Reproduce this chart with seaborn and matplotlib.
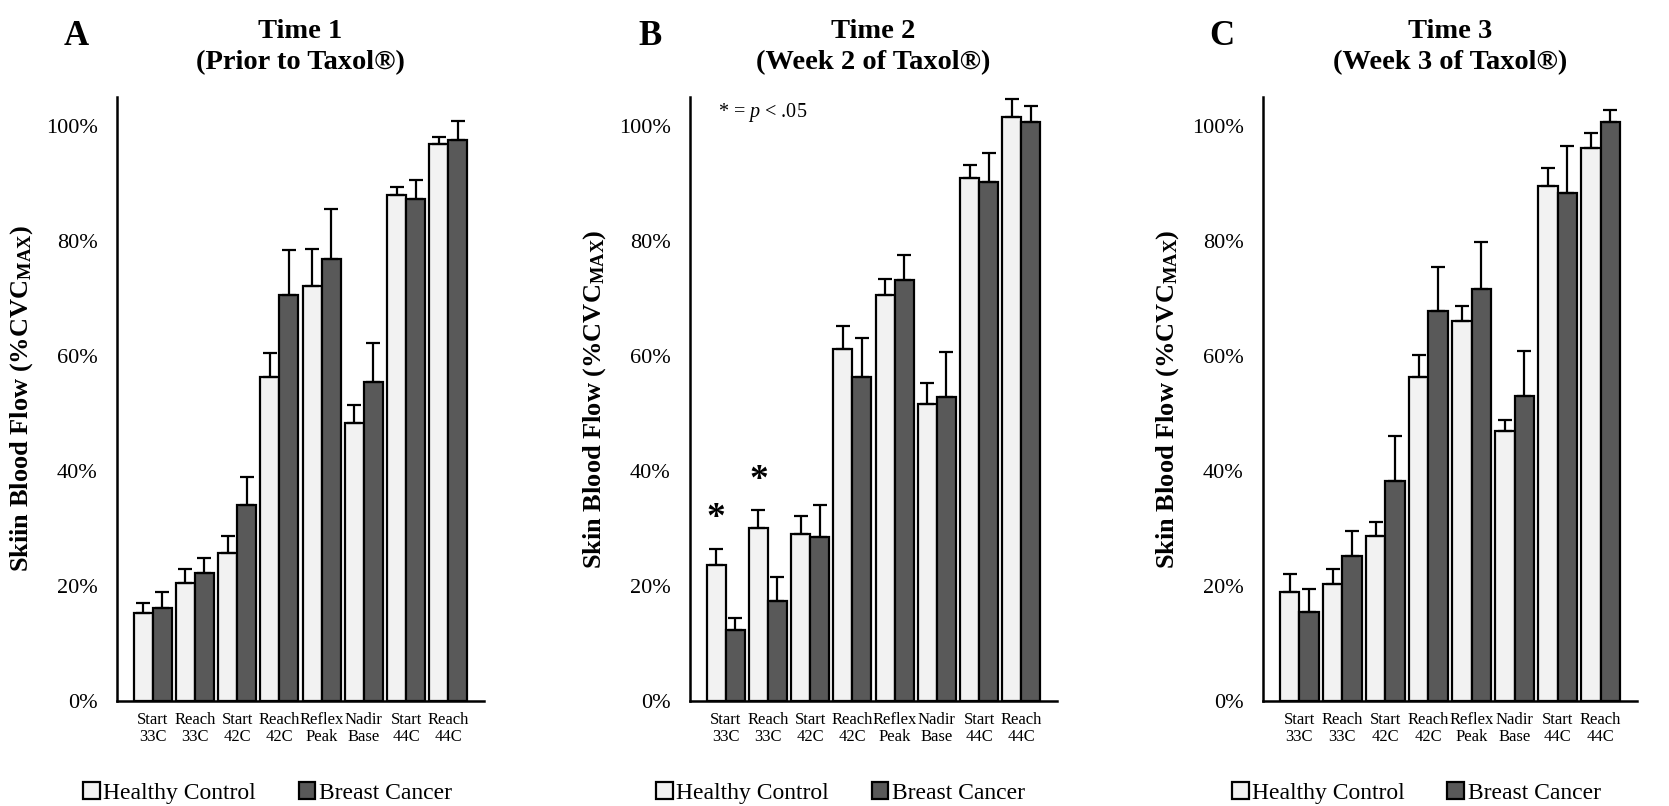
import matplotlib
matplotlib.use("Agg")
import numpy as np
import pandas as pd
import matplotlib.pyplot as plt
import seaborn as sns
from matplotlib.ticker import FuncFormatter

sns.set_theme(style="white")
plt.rcParams.update({
    "font.family": ["Liberation Serif", "DejaVu Serif"],
    "mathtext.fontset": "custom",
    "mathtext.rm": "Liberation Serif",
    "mathtext.it": "Liberation Serif:italic",
    "mathtext.bf": "Liberation Serif:bold",
    "text.color": "black",
    "axes.labelcolor": "black",
    "xtick.color": "black",
    "ytick.color": "black",
})

STAGES = ["Start\n33C", "Reach\n33C", "Start\n42C", "Reach\n42C",
          "Reflex\nPeak", "Nadir\nBase", "Start\n44C", "Reach\n44C"]
GROUPS = ["Healthy Control", "Breast Cancer"]
COLORS = ["#f2f2f2", "#595959"]

# skin blood flow, %CVCmax (mean and SE)
t1_hc = [15.3, 20.6, 25.8, 56.4, 72.2, 48.4, 88.0, 96.8]
t1_hc_se = [1.8, 2.4, 2.8, 4.1, 6.3, 3.1, 1.3, 1.2]
t1_bc = [16.2, 22.3, 34.0, 70.5, 76.9, 55.4, 87.2, 97.5]
t1_bc_se = [2.8, 2.6, 5.0, 7.9, 8.6, 6.8, 3.3, 3.4]

t2_hc = [23.6, 30.1, 29.1, 61.2, 70.5, 51.6, 90.9, 101.6]
t2_hc_se = [2.9, 3.1, 3.0, 4.0, 2.9, 3.7, 2.2, 3.0]
t2_bc = [12.3, 17.4, 28.5, 56.3, 73.2, 52.8, 90.2, 100.6]
t2_bc_se = [2.1, 4.1, 5.5, 6.8, 4.4, 7.8, 5.1, 2.8]

t3_hc = [19.0, 20.4, 28.7, 56.4, 66.1, 46.9, 89.6, 96.1]
t3_hc_se = [3.0, 2.6, 2.4, 3.7, 2.6, 2.0, 3.1, 2.6]
t3_bc = [15.5, 25.2, 38.2, 67.8, 71.6, 53.0, 88.3, 100.7]
t3_bc_se = [3.9, 4.3, 7.8, 7.6, 8.2, 7.8, 8.1, 2.0]

PANELS = [
    ("A", "Time 1\n(Prior to Taxol®)", "Skiin", t1_hc, t1_hc_se, t1_bc, t1_bc_se, []),
    ("B", "Time 2\n(Week 2 of Taxol®)", "Skin", t2_hc, t2_hc_se, t2_bc, t2_bc_se, [0, 1]),
    ("C", "Time 3\n(Week 3 of Taxol®)", "Skin", t3_hc, t3_hc_se, t3_bc, t3_bc_se, []),
]
AX_BOXES = [(117, 367), (690, 367), (1263, 374)]  # left px, width px

W, H = 1669, 806
fig = plt.figure(figsize=(W / 100, H / 100), dpi=100)

for (letter, title, skin, hc, hc_se, bc, bc_se, sig), (left, width) in zip(PANELS, AX_BOXES):
    ax = fig.add_axes([left / W, (H - 701) / H, width / W, 604 / H])
    df = pd.DataFrame({
        "stage": STAGES * 2,
        "group": [GROUPS[0]] * 8 + [GROUPS[1]] * 8,
        "value": hc + bc,
    })
    sns.barplot(data=df, x="stage", y="value", hue="group", order=STAGES,
                hue_order=GROUPS, palette=COLORS, edgecolor="black", linewidth=1.6,
                width=0.9, errorbar=None, ax=ax, saturation=1)

    errs = [hc_se, bc_se]
    for cont, se in zip(ax.containers, errs):
        for bar, e in zip(cont, se):
            cx = bar.get_x() + bar.get_width() / 2
            ax.errorbar(cx, bar.get_height(), yerr=[[0], [e]], fmt="none",
                        ecolor="black", elinewidth=1.6, capsize=5, capthick=1.6, zorder=3)

    # significance markers
    for i in sig:
        bar = ax.containers[0][i]
        cx = bar.get_x() + bar.get_width() / 2
        ax.text(cx, hc[i] + hc_se[i] + 5.2, "*", ha="center", va="center",
                fontsize=27, fontweight="bold")
    if sig:
        ax.text(0.075, 0.975, "* = $p$ < .05", transform=ax.transAxes,
                ha="left", va="center", fontsize=14.5)

    ax.set_ylim(0, 105)
    ax.set_yticks([0, 20, 40, 60, 80, 100])
    ax.yaxis.set_major_formatter(FuncFormatter(lambda v, p: f"{v:.0f}%"))
    ax.tick_params(axis="y", length=0, pad=14, labelsize=16)
    ax.tick_params(axis="x", length=0, pad=8, labelsize=12)
    for lab in ax.get_xticklabels():
        lab.set_linespacing(1.1)
    ax.set_xlabel("")
    ax.set_ylabel(skin + r" Blood Flow (%CVC$_{\mathbf{MAX}}$)", fontsize=19,
                  fontweight="bold", labelpad=8)
    sns.despine(ax=ax)
    for s in ["left", "bottom"]:
        ax.spines[s].set_color("black")
        ax.spines[s].set_linewidth(1.8)

    ax.set_title(title, fontsize=20.5, fontweight="bold", pad=20, linespacing=1.35)
    ax.text(-0.11, 1.10, letter, transform=ax.transAxes, ha="center", va="center",
            fontsize=25, fontweight="bold")

    handles, labels = ax.get_legend_handles_labels()
    ax.legend(handles, labels, loc="center", bbox_to_anchor=(0.41, -0.152), ncol=2,
              frameon=False, handlelength=0.7, handleheight=0.7, handletextpad=0.15,
              columnspacing=1.8, fontsize=17)

fig.savefig("out.png", dpi=100)
